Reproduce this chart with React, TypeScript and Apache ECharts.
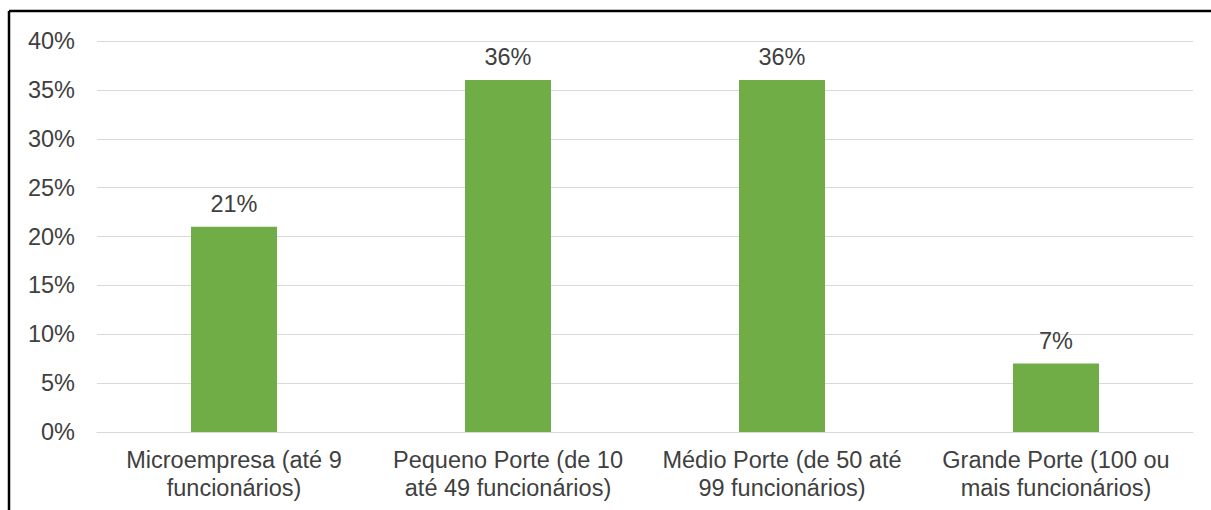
import React, { useEffect, useRef } from "react";
import * as echarts from "echarts";

const categories = [
  "Microempresa (até 9\nfuncionários)",
  "Pequeno Porte (de 10\naté 49 funcionários)",
  "Médio Porte (de 50 até\n99 funcionários)",
  "Grande Porte (100 ou\nmais funcionários)",
];
const values = [21, 36, 36, 7];
const yTicks = { min: 0, max: 40, interval: 5 };

const FONT = "'Liberation Sans', Arial, sans-serif";
const TEXT = "#404040";
const FS = 23.5;

export default function App() {
  const ref = useRef<HTMLDivElement>(null);
  useEffect(() => {
    if (!ref.current) return;
    const chart = echarts.init(ref.current, undefined, { renderer: "svg" });
    chart.setOption({
      animation: false,
      backgroundColor: "#ffffff",
      textStyle: { fontFamily: FONT },
      grid: { left: 97, right: 18, top: 41, bottom: 78 },
      graphic: [
        { type: "line", shape: { x1: 9, y1: 11, x2: 1211, y2: 11 }, style: { stroke: "#000", lineWidth: 2.5 } },
        { type: "line", shape: { x1: 9, y1: 11, x2: 9, y2: 510 }, style: { stroke: "#000", lineWidth: 2.5 } },
      ],
      xAxis: {
        type: "category",
        data: categories,
        axisTick: { show: false },
        axisLine: { show: true, lineStyle: { color: "#D9D9D9", width: 1 } },
        axisLabel: {
          color: TEXT,
          fontSize: FS,
          fontFamily: FONT,
          lineHeight: 28,
          margin: 14,
          interval: 0,
        },
      },
      yAxis: {
        type: "value",
        min: yTicks.min,
        max: yTicks.max,
        interval: yTicks.interval,
        axisLine: { show: false },
        axisTick: { show: false },
        splitLine: { lineStyle: { color: "#D9D9D9", width: 1 } },
        axisLabel: {
          color: TEXT,
          fontSize: FS,
          fontFamily: FONT,
          margin: 22,
          formatter: (v: number) => v + "%",
        },
      },
      series: [
        {
          type: "bar",
          data: values,
          barWidth: 86,
          itemStyle: { color: "#70AD47" },
          label: {
            show: true,
            position: "top",
            distance: 11,
            color: TEXT,
            fontSize: FS,
            fontFamily: FONT,
            formatter: (p: any) => p.value + "%",
          },
        },
      ],
    });
    return () => chart.dispose();
  }, []);
  return (
    <div
      ref={ref}
      style={{ position: "fixed", left: 0, top: 0, width: 1211, height: 510 }}
    />
  );
}
